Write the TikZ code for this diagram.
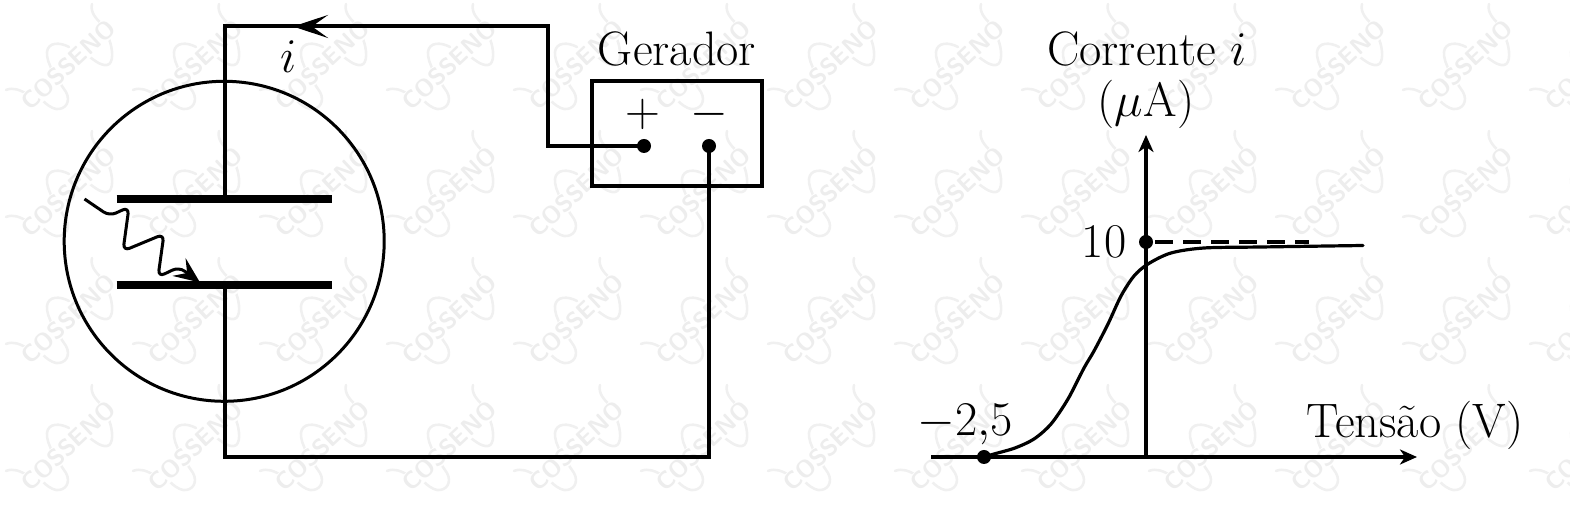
\documentclass[tikz,border=0pt]{standalone}
\usepackage{fix-cm}
\usepackage{tikz}
\usetikzlibrary{arrows.meta}
\tikzset{
  wire/.style={line width=2pt,line join=miter,line cap=butt},
  plate/.style={line width=3.7pt},
  bigtip/.style={-{Stealth[length=17.5pt,width=11.5pt,inset=8pt]}},
  axistip/.style={-{Stealth[length=8.5pt,width=7.5pt,inset=2.5pt]}},
  wavetip/.style={-{Stealth[length=13pt,width=11pt,inset=5pt]}},
  lbl/.style={font=\fontsize{24.2}{28}\selectfont,inner sep=0pt},
  dot/.style={circle,fill=black,minimum size=7pt,inner sep=0pt},
  logo/.style={line width=1.3pt,draw=black!6,line cap=round},
  logotext/.style={text=black!7,fill=white,font=\fontsize{12}{12}\selectfont\bfseries\sffamily,rotate=43,inner sep=0.5pt}
}
\begin{document}
\begin{tikzpicture}[x=0.5pt,y=-0.5pt]
\useasboundingbox (-1,-1) rectangle (1569,505);
% watermark
\foreach \i in {0,...,12}{
 \foreach \j in {0,...,3}{
  \begin{scope}[shift={(5+127*\i,3+127*\j)}]
   \draw[logo] (0,86) .. controls (7,83) and (14,86) .. (21,90);
   \draw[logo] (86,0) .. controls (84,8) and (90,15) .. (96,20);
   \draw[logo] (103,35) .. controls (107,45) and (108,60) .. (101,61) .. controls (94,62) and (87,55) .. (81,51);
   \draw[logo] (63,43) .. controls (54,38) and (42,38) .. (41,48) .. controls (40,60) and (52,76) .. (60,88) .. controls (65,97) and (60,106) .. (50,105) .. controls (45,104) and (40,100) .. (36,96);
   \node[logotext] (wm\i\j) at (62,61) {COSSENO};
  \end{scope}
 }
}
% tube
\node[circle,draw,line width=1.5pt,minimum size=160pt,inner sep=0pt] (tube) at (223.2,240.3) {};
\coordinate (pa1) at (115.5,198); \coordinate (pa2) at (330.5,198);
\coordinate (pc1) at (115.5,284); \coordinate (pc2) at (330.5,284);
\coordinate (anode) at (223.5,198); \coordinate (cathode) at (223.5,284);
\draw[plate] (pa1) -- (pa2);
\draw[plate] (pc1) -- (pc2);
% generator
\node[draw,line width=2pt,minimum width=85pt,minimum height=52.5pt,inner sep=0pt] (gen) at (676,132.5) {};
\node[dot] (plus) at (643,145) {};
\node[dot] (minus) at (708,145) {};
\coordinate (c1) at (223.5,25.5); \coordinate (c2) at (547,25.5); \coordinate (c3) at (547,145);
\coordinate (c4) at (708,456); \coordinate (c5) at (223.5,456);
\coordinate (tipi) at (292,25.5);
\draw[wire] (anode) -- (c1) -- (c2) -- (c3) -- (plus.center);
\draw[wire] (minus.center) -- (c4) -- (c5) -- (cathode);
\draw[wire,bigtip] (c2) -- (tipi);
% photon
\coordinate (w0) at (83.5,198);
\coordinate (w9) at (199,281.5);
\draw[line width=1.5pt,line join=round,rounded corners=3.5pt,wavetip]
  (w0) -- (108.5,215) -- (128,206) -- (122,250) -- (163,233) -- (157,276) -- (178,266) -- (w9);
% labels left
\node[lbl] (li) at (288,56) {$i$};
\node[lbl] (lgen) at (676,48) {Gerador};
\node[lbl] (lp) at (642,113) {$+$};
\node[lbl] (lm) at (708,113) {$-$};
% graph
\coordinate (xs) at (930,456); \coordinate (xe) at (1416,456);
\coordinate (ys) at (1145,456); \coordinate (ye) at (1145,134);
\draw[wire,axistip] (xs) -- (xe);
\draw[wire,axistip] (ys) -- (ye);
\node[dot] (d1) at (983,456) {};
\node[dot] (d2) at (1145,241) {};
\coordinate (dashend) at (1308,241);
\draw[wire,dash pattern=on 9.2pt off 4.8pt] (d2.center) ++(9,0) -- (dashend);
\draw[line width=1.6pt,line cap=round] plot[smooth,tension=0.5] coordinates {
 (d1) (993,453) (1014,447) (1033,438) (1050,423) (1067,398) (1083,367) (1093,350) (1107,323) (1120,295) (1133,275) (1147,263) (1170,252) (1203,247) (1260,246) (1362,244.5)};
\node[lbl] (l10) at (1103,241) {10};
\node[lbl] (l25) at (964,424) {$-2{,}5$};
\node[lbl] (lx) at (1414,424) {Tens\~ao (V)};
\node[lbl] (ly1) at (1146,48) {Corrente $i$};
\node[lbl] (ly2) at (1145,103) {($\mu$A)};
\end{tikzpicture}
\end{document}
